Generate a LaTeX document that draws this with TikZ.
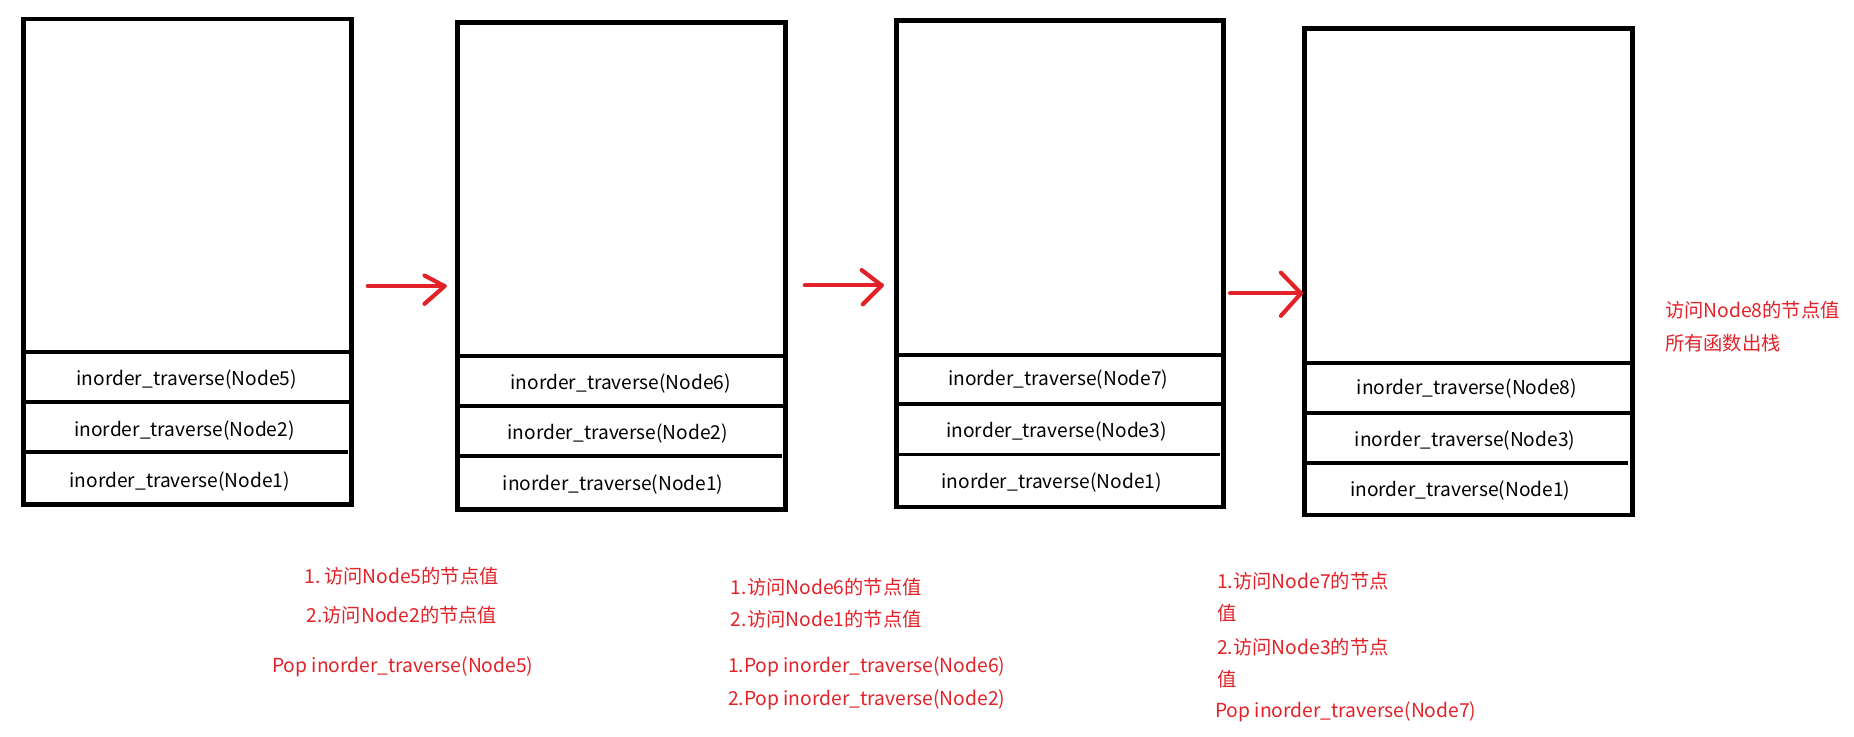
\documentclass[tikz,border=0pt]{standalone}
\usepackage{fontspec}
\setmainfont{Noto Sans CJK SC}
\usetikzlibrary{calc}
\definecolor{penred}{RGB}{226,34,40}
\tikzset{
  frame/.style={draw=black, line width=4pt},
  divider/.style={draw=black, line width=3.4pt},
  thindiv/.style={draw=black, line width=3pt},
  stacktxt/.style={inner sep=0pt, font=\fontsize{16.2}{19}\selectfont},
  note/.style={inner sep=0pt, anchor=west, text=penred, font=\fontsize{16.3}{19}\selectfont},
  redline/.style={draw=penred, line width=3.5pt, line cap=round, line join=round}
}
\begin{document}
\begin{tikzpicture}[x=1pt, y=-1pt]
\useasboundingbox (0,0) rectangle (1568,622.5);
% ---------- box 1
\draw[frame] (20,16) rectangle (297,426.5);
\draw[divider] (20,298) -- (297,298);
\draw[divider] (20,340) -- (297,340);
\draw[thindiv] (20,382.5) -- (294,382.5);
\node[stacktxt] (s1a) at (158,321) {inorder\_traverse(Node5)};
\node[stacktxt] (s1b) at (156,364) {inorder\_traverse(Node2)};
\node[stacktxt] (s1c) at (152,407) {inorder\_traverse(Node1)};
% ---------- box 2
\draw[frame] (387,19) rectangle (664.5,430.8);
\draw[divider] (387,301) -- (664.5,301);
\draw[divider] (387,343) -- (664.5,343);
\draw[thindiv] (387,385.5) -- (661,385.5);
\node[stacktxt] (s2a) at (525,324) {inorder\_traverse(Node6)};
\node[stacktxt] (s2b) at (522.5,367) {inorder\_traverse(Node2)};
\node[stacktxt] (s2c) at (518.5,410) {inorder\_traverse(Node1)};
% ---------- box 3
\draw[frame] (758,17.6) rectangle (1035,428.8);
\draw[divider] (758,300) -- (1035,300);
\draw[divider] (758,342) -- (1035,342);
\draw[thindiv] (758,384.5) -- (1032,384.5);
\node[stacktxt] (s3a) at (895,321) {inorder\_traverse(Node7)};
\node[stacktxt] (s3b) at (893.5,365) {inorder\_traverse(Node3)};
\node[stacktxt] (s3c) at (889.5,407.7) {inorder\_traverse(Node1)};
% ---------- box 4
\draw[frame] (1103,24) rectangle (1380.5,435.6);
\draw[divider] (1103,307.2) -- (1380.5,307.2);
\draw[divider] (1103,349) -- (1380.5,349);
\draw[thindiv] (1103,391.5) -- (1377,391.5);
\node[stacktxt] (s4a) at (1240.6,329) {inorder\_traverse(Node8)};
\node[stacktxt] (s4b) at (1239,373) {inorder\_traverse(Node3)};
\node[stacktxt] (s4c) at (1235,415) {inorder\_traverse(Node1)};
% ---------- arrows
\coordinate (a1s) at (311,242);
\coordinate (a1e) at (376,242);
\draw[redline] (a1s) -- (a1e);
\draw[redline] ($(a1e)+(-17,-9)$) -- (a1e) -- ($(a1e)+(-17,15)$);
\coordinate (a2s) at (680.6,241.4);
\coordinate (a2e) at (745.7,241.4);
\draw[redline] (a2s) -- (a2e);
\draw[redline] ($(a2e)+(-17,-13)$) -- (a2e) -- ($(a2e)+(-16,16)$);
\coordinate (a3s) at (1040.3,248.1);
\coordinate (a3e) at (1100.3,248.1);
\draw[redline] (a3s) -- (a3e);
\draw[redline] ($(a3e)+(-17,-17.5)$) -- (a3e) -- ($(a3e)+(-17,19)$);
% ---------- notes
\node[note] (n1a) at (257.7,487.5) {1.\,访问Node5的节点值};
\node[note] (n1b) at (259,520.6) {2.访问Node2的节点值};
\node[note] (n1c) at (230,563.7) {Pop inorder\_traverse(Node5)};
\node[note] (n2a) at (618,496.6) {1.访问Node6的节点值};
\node[note] (n2b) at (618,523.8) {2.访问Node1的节点值};
\node[note] (n2c) at (615.5,563.7) {1.Pop inorder\_traverse(Node6)};
\node[note] (n2d) at (615.5,591.6) {2.Pop inorder\_traverse(Node2)};
\node[note] (n3a) at (1029.3,491.5) {1.访问Node7的节点};
\node[note] (n3b) at (1029.3,518.6) {值};
\node[note] (n3c) at (1029.3,547.3) {2.访问Node3的节点};
\node[note] (n3d) at (1029.3,574.5) {值};
\node[note] (n3e) at (1027.5,601.6) {Pop inorder\_traverse(Node7)};
\node[note] (n4a) at (1408,262.5) {访问Node8的节点值};
\node[note] (n4b) at (1408,290.4) {所有函数出栈};
\end{tikzpicture}
\end{document}
